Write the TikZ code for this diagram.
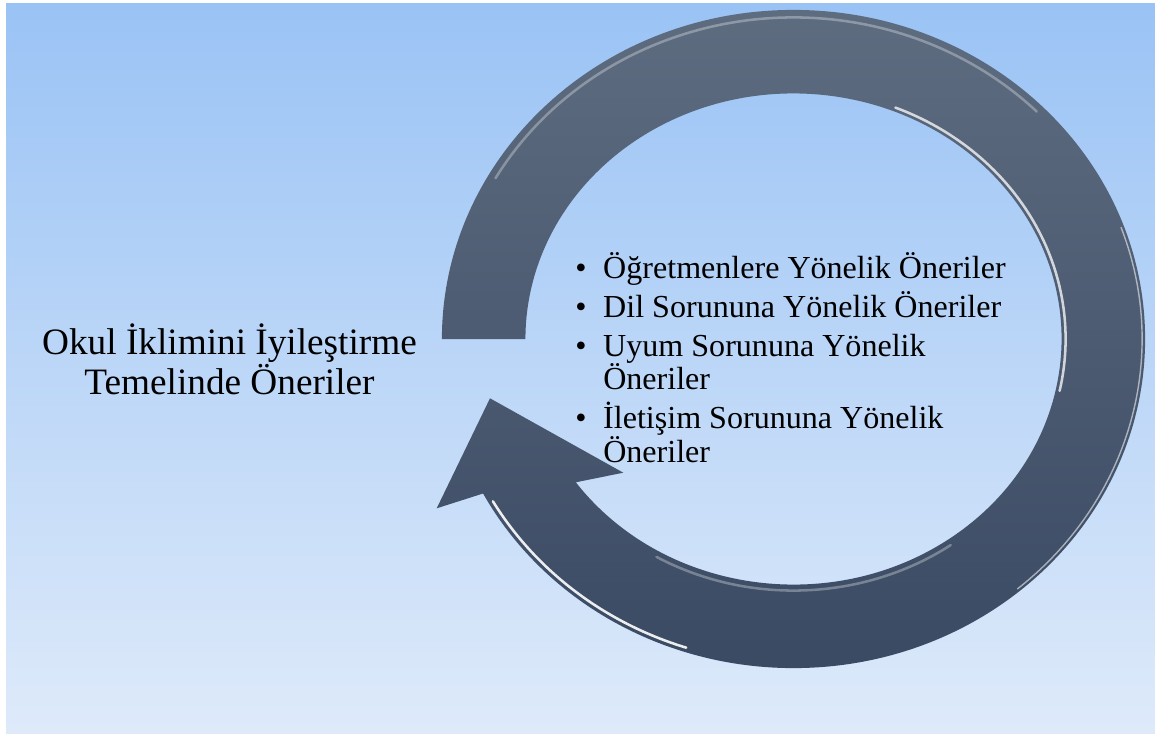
\documentclass[tikz,border=0pt]{standalone}
\usepackage{fontspec}
\setmainfont{Liberation Serif}
\usetikzlibrary{calc}
\definecolor{fonust}{RGB}{154,195,245}
\definecolor{fonalt}{RGB}{222,234,250}
\definecolor{halkaust}{RGB}{94,108,128}
\definecolor{halkaalt}{RGB}{58,74,99}
\newcommand{\listeyazi}{\fontsize{22.8}{23.5}\selectfont\lineskiplimit-30pt\relax}
\begin{document}
\begin{tikzpicture}[x=0.025cm,y=0.025cm,parlak/.style={white,line width=1.8pt,line cap=round}]
	\useasboundingbox (0,0) rectangle (1155,733);
	\shade[top color=fonust,bottom color=fonalt] (6,0) rectangle (1155,729);
	\coordinate (m) at (793.5,394);
	\shade[top color=halkaust,bottom color=halkaalt] ($(m)+(180:8.7875cm and 8.225cm)$)
		arc[start angle=180,end angle=-152,x radius=8.7875cm,y radius=8.225cm]
		-- (436.7,224.7) -- (490,334.7) -- (623.3,260.3)
		-- ($(m)+(-144.3:6.7cm and 6.1375cm)$)
		arc[start angle=-144.3,end angle=180,x radius=6.7cm,y radius=6.1375cm] -- cycle;
	\draw[parlak,opacity=.75] ($(m)+(68:6.8cm and 6.2375cm)$) arc[start angle=68,end angle=-12,x radius=6.8cm,y radius=6.2375cm];
	\draw[parlak,opacity=.9]  ($(m)+(-150:8.675cm and 8.1125cm)$) arc[start angle=-150,end angle=-108,x radius=8.675cm,y radius=8.1125cm];
	\draw[parlak,opacity=.3] ($(m)+(150:8.6cm and 8.0375cm)$) arc[start angle=150,end angle=45,x radius=8.6cm,y radius=8.0375cm];
	\draw[parlak,opacity=.3] ($(m)+(-120:6.85cm and 6.2875cm)$) arc[start angle=-120,end angle=-55,x radius=6.85cm,y radius=6.2875cm];
	\draw[parlak,opacity=.55,line width=1pt] ($(m)+(20:8.7125cm and 8.15cm)$) arc[start angle=20,end angle=-50,x radius=8.7125cm,y radius=8.15cm];
	\node[font=\fontsize{26.5}{26}\selectfont,align=center] (baslik) at (229.5,374) {Okul İklimini İyileştirme\\Temelinde Öneriler};
	\node[font=\listeyazi,align=left,anchor=base west,inner sep=0pt] (oneriler) at (575,271)
		{\makebox[19.9pt][l]{\textbullet}Öğretmenlere Yönelik Öneriler\\[4.3pt]
		\makebox[19.9pt][l]{\textbullet}Dil Sorununa Yönelik Öneriler\\[4.3pt]
		\makebox[19.9pt][l]{\textbullet}Uyum Sorununa Yönelik\\
		\hspace*{19.9pt}Öneriler\\[4.3pt]
		\makebox[19.9pt][l]{\textbullet}İletişim Sorununa Yönelik\\
		\hspace*{19.9pt}Öneriler};
\end{tikzpicture}
\end{document}
